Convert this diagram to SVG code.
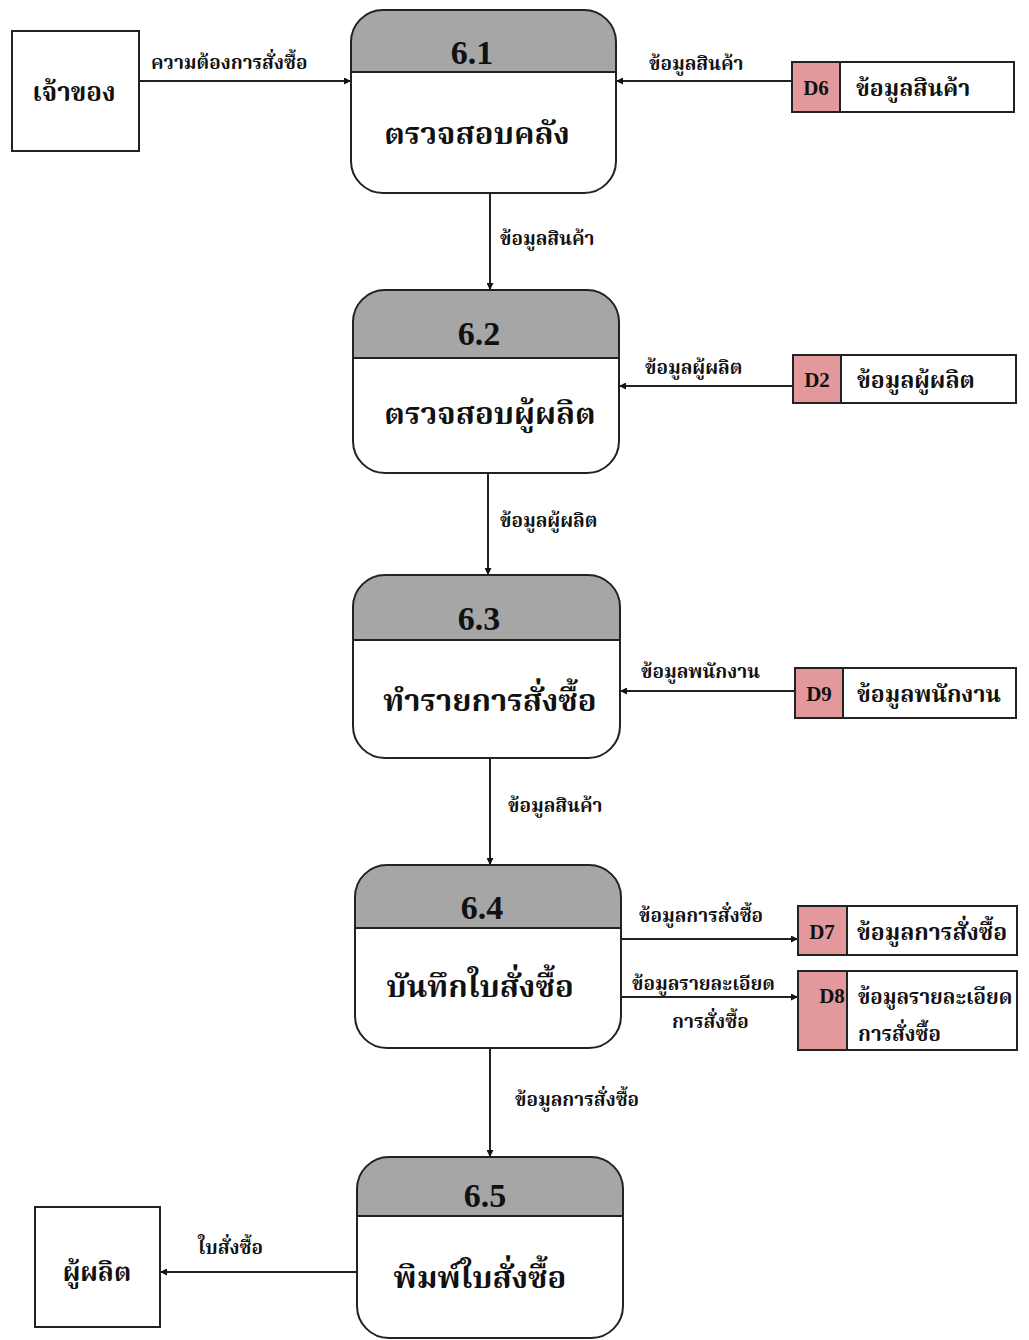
<svg xmlns="http://www.w3.org/2000/svg" width="1029" height="1340" viewBox="0 0 1029 1340">
<style>
text{font-family:"Liberation Serif","Noto Serif Thai","Noto Sans Thai",serif;font-weight:bold;fill:#111}
.pbody{fill:none;stroke:#222;stroke-width:2}
.phead{fill:#a6a6a6}
.div{stroke:#222;stroke-width:2}
.ent{fill:#fff;stroke:#222;stroke-width:2}
.sbox{fill:#fff;stroke:#222;stroke-width:2}
.sid{fill:#e3999c;stroke:#222;stroke-width:2}
.num{font-size:34px;text-anchor:middle}
.pname{font-size:31px;text-anchor:middle}
.lbl{font-size:19px}
.sl{font-size:23px}
.sl2{font-size:20.5px}
.sd{font-size:21px;text-anchor:middle}
.en{font-size:26px;text-anchor:middle}
.conn line{stroke:#222;stroke-width:2}
</style>
<defs>
<marker id="ah" viewBox="0 0 10 10" refX="10" refY="5" markerWidth="7" markerHeight="7" orient="auto" markerUnits="userSpaceOnUse"><path d="M0,0 L10,5 L0,10 z" fill="#111"/></marker>
<clipPath id="c1"><rect x="351" y="10" width="265" height="183" rx="32"/></clipPath>
<clipPath id="c2"><rect x="353" y="290" width="266" height="183" rx="32"/></clipPath>
<clipPath id="c3"><rect x="353" y="575" width="267" height="183" rx="32"/></clipPath>
<clipPath id="c4"><rect x="355" y="865" width="266" height="183" rx="32"/></clipPath>
<clipPath id="c5"><rect x="357" y="1157" width="266" height="181" rx="32"/></clipPath>
</defs>

<g id="connectors" class="conn">
<line x1="139" y1="81" x2="351" y2="81" marker-end="url(#ah)"/>
<line x1="792" y1="81" x2="616" y2="81" marker-end="url(#ah)"/>
<line x1="490" y1="193" x2="490" y2="290" marker-end="url(#ah)"/>
<line x1="793" y1="386" x2="619" y2="386" marker-end="url(#ah)"/>
<line x1="488" y1="473" x2="488" y2="575" marker-end="url(#ah)"/>
<line x1="795" y1="691" x2="620" y2="691" marker-end="url(#ah)"/>
<line x1="490" y1="758" x2="490" y2="865" marker-end="url(#ah)"/>
<line x1="621" y1="939" x2="798" y2="939" marker-end="url(#ah)"/>
<line x1="621" y1="997" x2="798" y2="997" marker-end="url(#ah)"/>
<line x1="490" y1="1048" x2="490" y2="1157" marker-end="url(#ah)"/>
<line x1="357" y1="1272" x2="160" y2="1272" marker-end="url(#ah)"/>
<text class="lbl" x="151" y="69">ความต้องการสั่งซื้อ</text>
<text class="lbl" x="649" y="70">ข้อมูลสินค้า</text>
<text class="lbl" x="500" y="245">ข้อมูลสินค้า</text>
<text class="lbl" x="645" y="374">ข้อมูลผู้ผลิต</text>
<text class="lbl" x="500" y="527">ข้อมูลผู้ผลิต</text>
<text class="lbl" x="641" y="678">ข้อมูลพนักงาน</text>
<text class="lbl" x="508" y="812">ข้อมูลสินค้า</text>
<text class="lbl" x="639" y="922">ข้อมูลการสั่งซื้อ</text>
<text class="lbl" x="632" y="990">ข้อมูลรายละเอียด</text>
<text class="lbl" x="672" y="1028">การสั่งซื้อ</text>
<text class="lbl" x="515" y="1106">ข้อมูลการสั่งซื้อ</text>
<text class="lbl" x="198" y="1254">ใบสั่งซื้อ</text>
</g>

<g id="owner"><rect class="ent" x="12" y="31" width="127" height="120"/><text class="en" x="74" y="101">เจ้าของ</text></g>
<g id="maker"><rect class="ent" x="35" y="1207" width="125" height="120"/><text class="en" x="97" y="1281">ผู้ผลิต</text></g>

<g id="p61"><rect class="phead" x="351" y="10" width="265" height="62" clip-path="url(#c1)"/><line class="div" x1="351" y1="72" x2="616" y2="72"/><rect class="pbody" x="351" y="10" width="265" height="183" rx="32"/><text class="num" x="472" y="64">6.1</text><text class="pname" x="477" y="144">ตรวจสอบคลัง</text></g>
<g id="p62"><rect class="phead" x="353" y="290" width="266" height="68" clip-path="url(#c2)"/><line class="div" x1="353" y1="358" x2="619" y2="358"/><rect class="pbody" x="353" y="290" width="266" height="183" rx="32"/><text class="num" x="479" y="345">6.2</text><text class="pname" x="490" y="424">ตรวจสอบผู้ผลิต</text></g>
<g id="p63"><rect class="phead" x="353" y="575" width="267" height="65" clip-path="url(#c3)"/><line class="div" x1="353" y1="640" x2="620" y2="640"/><rect class="pbody" x="353" y="575" width="267" height="183" rx="32"/><text class="num" x="479" y="630">6.3</text><text class="pname" x="490" y="711">ทำรายการสั่งซื้อ</text></g>
<g id="p64"><rect class="phead" x="355" y="865" width="266" height="63" clip-path="url(#c4)"/><line class="div" x1="355" y1="928" x2="621" y2="928"/><rect class="pbody" x="355" y="865" width="266" height="183" rx="32"/><text class="num" x="482" y="919">6.4</text><text class="pname" x="480" y="997">บันทึกใบสั่งซื้อ</text></g>
<g id="p65"><rect class="phead" x="357" y="1157" width="266" height="59" clip-path="url(#c5)"/><line class="div" x1="357" y1="1216" x2="623" y2="1216"/><rect class="pbody" x="357" y="1157" width="266" height="181" rx="32"/><text class="num" x="485" y="1207">6.5</text><text class="pname" x="480" y="1288">พิมพ์ใบสั่งซื้อ</text></g>

<g id="d6"><rect class="sbox" x="792" y="62" width="222" height="50"/><rect class="sid" x="792" y="62" width="48" height="50"/><text class="sd" x="816" y="95">D6</text><text class="sl" x="856" y="96">ข้อมูลสินค้า</text></g>
<g id="d2"><rect class="sbox" x="793" y="355" width="223" height="48"/><rect class="sid" x="793" y="355" width="48" height="48"/><text class="sd" x="817" y="387">D2</text><text class="sl" x="857" y="388">ข้อมูลผู้ผลิต</text></g>
<g id="d9"><rect class="sbox" x="795" y="668" width="221" height="50"/><rect class="sid" x="795" y="668" width="48" height="50"/><text class="sd" x="819" y="701">D9</text><text class="sl" x="857" y="702">ข้อมูลพนักงาน</text></g>
<g id="d7"><rect class="sbox" x="798" y="906" width="219" height="49"/><rect class="sid" x="798" y="906" width="49" height="49"/><text class="sd" x="822" y="939">D7</text><text class="sl" x="857" y="940">ข้อมูลการสั่งซื้อ</text></g>
<g id="d8"><rect class="sbox" x="798" y="971" width="219" height="79"/><rect class="sid" x="798" y="971" width="49" height="79"/><text class="sd" x="832" y="1003">D8</text><text class="sl2" x="858" y="1004">ข้อมูลรายละเอียด</text><text class="sl2" x="858" y="1041">การสั่งซื้อ</text></g>
</svg>
